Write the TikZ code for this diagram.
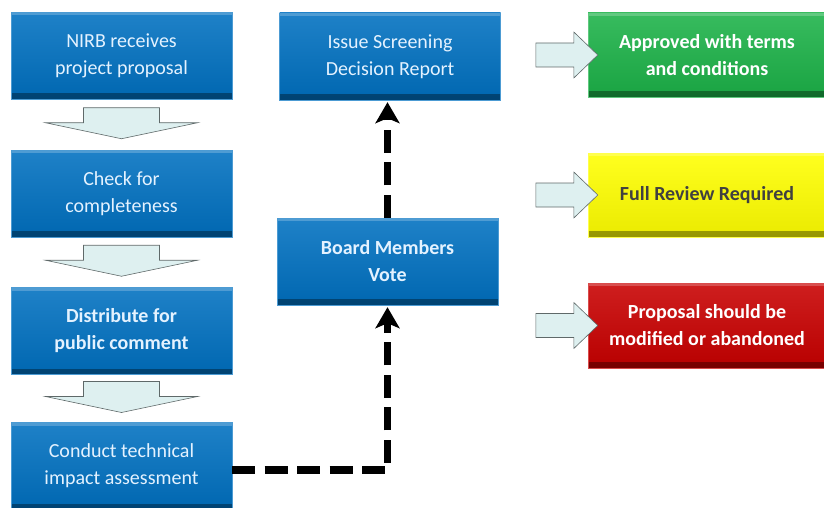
\documentclass[tikz,border=0pt]{standalone}
\usepackage{fontspec}
\setmainfont{Carlito}
\usetikzlibrary{arrows.meta,calc}
\definecolor{boxblue}{RGB}{0,112,192}
\definecolor{boxgreen}{RGB}{28,178,72}
\definecolor{boxyellow}{RGB}{255,255,0}
\definecolor{boxred}{RGB}{200,0,0}
\definecolor{arrowfill}{RGB}{222,240,240}
\definecolor{arrowline}{RGB}{95,105,105}
\definecolor{lighttext}{RGB}{228,242,255}
\tikzset{
    stepbox/.style={minimum width=221pt, minimum height=87pt, align=center, inner sep=0pt,
        font=\fontsize{20}{27}\selectfont, text=lighttext, draw=#1!70!white, line width=0.4pt,
        top color=#1!88!white, bottom color=#1!92!black,
        path picture={
            \fill[white,opacity=0.22] (path picture bounding box.north west) rectangle ([yshift=-3pt]path picture bounding box.north east);
            \fill[black,opacity=0.35] (path picture bounding box.south west) rectangle ([yshift=6pt]path picture bounding box.south east);
        }},
    stepbox/.default=boxblue,
    boldtext/.style={font=\fontsize{20}{27}\selectfont\bfseries},
    blockarrow/.style={fill=arrowfill, draw=arrowline, line width=0.6pt},
    votearrow/.style={line width=7.5pt, dash pattern=on 23pt off 9.5pt, -{Stealth[length=21pt,width=24pt,inset=5pt]}, shorten >=2pt},
    dnarrow/.pic={\draw[blockarrow] (-38,-17) -- (38,-17) -- (38,-2) -- (76,-2) -- (0,14) -- (-76,-2) -- (-38,-2) -- cycle;},
    rtarrow/.pic={\draw[blockarrow] (-52,-12) -- (-14,-12) -- (-14,-23) -- (10,0) -- (-14,23) -- (-14,12) -- (-52,12) -- cycle;}
}
\begin{document}
\begin{tikzpicture}[x=1pt,y=-1pt]
    \useasboundingbox (0,0) rectangle (824,508);
    % left column
    \node[stepbox] (nirb) at (121.5,56) {NIRB receives\\project proposal};
    \node[stepbox] (check) at (121.5,193.5) {Check for\\completeness};
    \node[stepbox, boldtext] (distrib) at (121.5,331) {Distribute for\\public comment};
    \node[stepbox] (conduct) at (121.5,466) {Conduct technical\\impact assessment};
    \pic at ($(nirb.south)!0.5!(check.north)$) {dnarrow};
    \pic at ($(check.south)!0.5!(distrib.north)$) {dnarrow};
    \pic at ($(distrib.south)!0.5!(conduct.north)$) {dnarrow};
    % middle column
    \node[stepbox] (issue) at (390,56.5) {Issue Screening\\Decision Report};
    \node[stepbox, boldtext] (board) at (387.5,261.5) {Board Members\\Vote};
    \draw[votearrow] ([yshift=-4pt]conduct.east) -- ([yshift=-4pt]conduct.east -| board.south) -- (board.south);
    \draw[votearrow] (board.north) -- (board.north |- issue.south);
    % outcomes
    \node[stepbox=boxgreen, minimum width=238pt, minimum height=84pt, boldtext, text=white] (approved) at (707,55) {Approved with terms\\and conditions};
    \node[stepbox=boxyellow, minimum width=238pt, minimum height=84pt, boldtext, text=black!75] (review) at (707,195) {Full Review Required};
    \node[stepbox=boxred, minimum width=238pt, minimum height=85pt, boldtext, text=white] (modified) at (707,325.5) {Proposal should be\\modified or abandoned};
    \pic at (approved.west) {rtarrow};
    \pic at (review.west) {rtarrow};
    \pic at (modified.west) {rtarrow};
\end{tikzpicture}
\end{document}
